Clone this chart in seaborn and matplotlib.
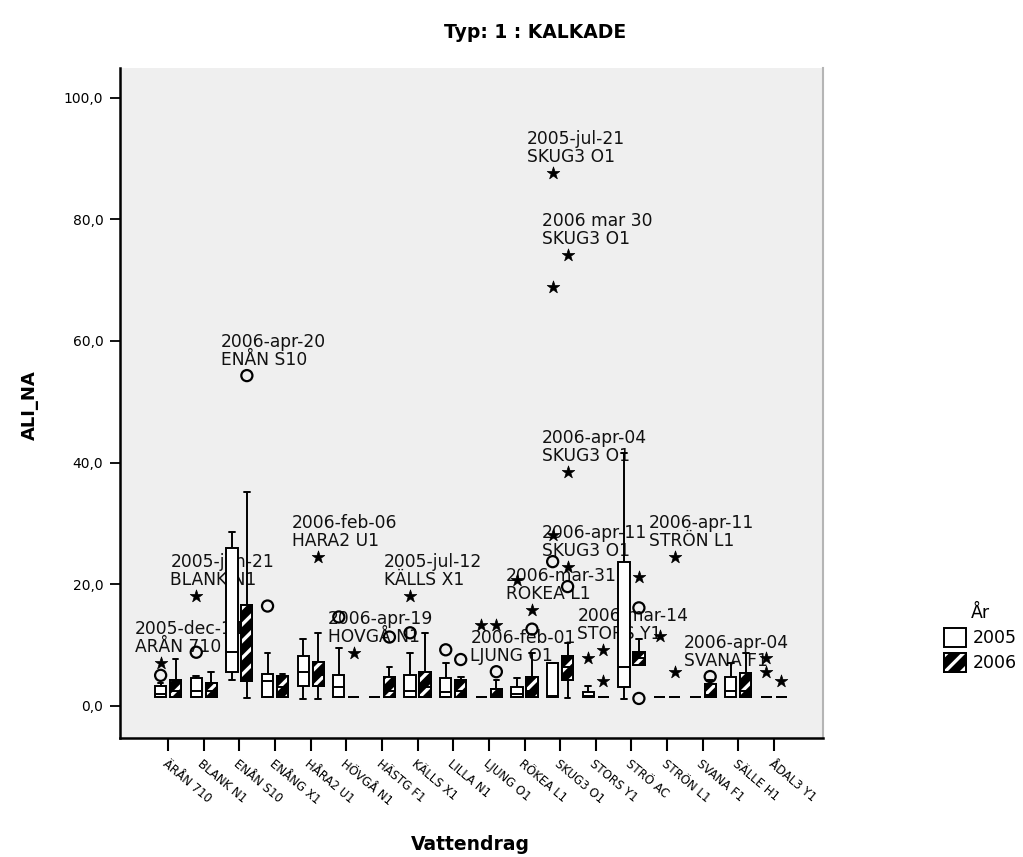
import numpy as np
import pandas as pd
import matplotlib
matplotlib.use("Agg")
import matplotlib.pyplot as plt
import matplotlib.patches as mpatches
from matplotlib.legend_handler import HandlerTuple
import seaborn as sns

stations = ["ÄRÅN 710", "BLANK N1", "ENÅN S10", "ENÅNG X1", "HÅRA2 U1",
            "HÖVGÅ N1", "HÄSTG F1", "KÄLLS X1", "LILLA N1", "LJUNG O1",
            "RÖKEA L1", "SKUG3 O1", "STORS Y1", "STRÖ AC", "STRÖN L1",
            "SVANA F1", "SÄLLE H1", "ÅDAL3 Y1"]
years = ["2005", "2006"]

# Five-number summaries per station: lower whisker, Q1, median, Q3, upper whisker
lo_2005  = [1.4, 1.4, 4.3, 1.4, 1.1, 1.4, 1.4, 1.4, 1.4, 1.4, 1.4, 1.4, 1.4, 1.1, 1.4, 1.4, 1.4, 1.4]
q1_2005  = [1.5, 1.5, 5.6, 1.5, 3.3, 1.5, 1.4, 1.5, 1.5, 1.4, 1.5, 1.5, 1.5, 3.0, 1.4, 1.4, 1.5, 1.4]
med_2005 = [1.9, 2.4, 8.9, 4.0, 5.6, 3.0, 1.4, 2.5, 2.3, 1.4, 2.0, 1.6, 1.6, 6.4, 1.4, 1.4, 2.5, 1.4]
q3_2005  = [3.3, 4.6, 26.0, 5.3, 8.2, 5.1, 1.4, 5.1, 4.6, 1.4, 3.1, 7.1, 2.3, 23.7, 1.4, 1.4, 4.8, 1.4]
hi_2005  = [3.8, 4.9, 28.6, 8.7, 10.9, 9.5, 1.4, 8.7, 7.1, 1.4, 4.6, 7.1, 3.3, 41.6, 1.4, 1.4, 7.1, 1.4]

lo_2006  = [1.4, 1.4, 1.2, 1.4, 1.1, 1.4, 1.4, 1.4, 1.4, 1.4, 1.4, 1.2, 1.4, 6.7, 1.4, 1.4, 1.4, 1.4]
q1_2006  = [1.4, 1.4, 4.0, 1.4, 3.3, 1.4, 1.4, 1.4, 1.4, 1.4, 1.4, 4.3, 1.4, 6.7, 1.4, 1.4, 1.4, 1.4]
med_2006 = [2.5, 2.5, 10.0, 3.0, 5.0, 1.4, 2.5, 3.0, 2.5, 1.6, 2.5, 6.4, 1.4, 7.8, 1.4, 1.8, 2.5, 1.4]
q3_2006  = [4.3, 3.8, 16.6, 4.9, 7.2, 1.4, 4.8, 5.6, 4.3, 2.8, 4.8, 8.1, 1.4, 8.9, 1.4, 3.5, 5.4, 1.4]
hi_2006  = [7.7, 5.6, 35.2, 5.3, 12.0, 1.4, 6.4, 12.0, 4.8, 4.3, 8.7, 10.4, 1.4, 10.9, 1.4, 4.2, 8.7, 1.4]

# Outliers (o) and extremes (*), with case labels where shown
out_station = ["ÄRÅN 710", "ÄRÅN 710", "BLANK N1", "BLANK N1", "ENÅN S10", "ENÅNG X1",
               "HÅRA2 U1", "HÖVGÅ N1", "HÖVGÅ N1", "HÄSTG F1", "KÄLLS X1", "KÄLLS X1",
               "LILLA N1", "LILLA N1", "LJUNG O1", "LJUNG O1", "LJUNG O1",
               "RÖKEA L1", "RÖKEA L1", "RÖKEA L1",
               "SKUG3 O1", "SKUG3 O1", "SKUG3 O1", "SKUG3 O1", "SKUG3 O1",
               "SKUG3 O1", "SKUG3 O1", "SKUG3 O1",
               "STORS Y1", "STORS Y1", "STORS Y1",
               "STRÖ AC", "STRÖ AC", "STRÖ AC",
               "STRÖN L1", "STRÖN L1", "STRÖN L1", "SVANA F1",
               "ÅDAL3 Y1", "ÅDAL3 Y1", "ÅDAL3 Y1"]
out_year = ["2005", "2005", "2005", "2005", "2006", "2005",
            "2006", "2005", "2006", "2006", "2005", "2005",
            "2005", "2006", "2005", "2006", "2006",
            "2005", "2006", "2006",
            "2005", "2005", "2005", "2005", "2006",
            "2006", "2006", "2006",
            "2005", "2006", "2006",
            "2006", "2006", "2006",
            "2005", "2006", "2006", "2006",
            "2005", "2005", "2006"]
out_value = [7.1, 5.0, 18.1, 8.8, 54.3, 16.4,
             24.5, 14.6, 8.7, 11.3, 18.1, 12.0,
             9.2, 7.6, 13.3, 13.3, 5.6,
             20.7, 15.8, 12.6,
             87.7, 68.8, 28.1, 23.7, 74.2,
             38.5, 22.9, 19.6,
             7.9, 9.2, 4.0,
             21.1, 16.1, 1.2,
             11.5, 24.5, 5.6, 4.8,
             7.9, 5.6, 4.1]
out_kind = ["*", "o", "*", "o", "o", "o",
            "*", "o", "*", "o", "*", "o",
            "o", "o", "*", "*", "o",
            "*", "*", "o",
            "*", "*", "*", "o", "*",
            "*", "*", "o",
            "*", "*", "*",
            "*", "o", "o",
            "*", "*", "*", "o",
            "*", "*", "*"]
out_label = ["2005-dec-14\nARÅN 710", "", "2005-jan-21\nBLANK N1", "", "2006-apr-20\nENÅN S10", "",
             "2006-feb-06\nHARA2 U1", "", "2006-apr-19\nHOVGÅ N1", "", "2005-jul-12\nKÄLLS X1", "",
             "", "", "", "", "2006-feb-01\nLJUNG O1",
             "", "2006-mar-31\nROKEA L1", "",
             "2005-jul-21\nSKUG3 O1", "", "", "", "2006 mar 30\nSKUG3 O1",
             "2006-apr-04\nSKUG3 O1", "2006-apr-11\nSKUG3 O1", "",
             "", "2006-mar-14\nSTORS Y1", "",
             "", "", "",
             "", "2006-apr-11\nSTRÖN L1", "", "2006-apr-04\nSVANA F1",
             "", "", ""]

sns.set_theme(style="ticks")
plt.rcParams["font.family"] = ["DejaVu Sans"]
plt.rcParams["text.color"] = "black"
plt.rcParams["hatch.linewidth"] = 2.4

# Long table: the five summary values of each box become its observations
rows = []
summaries = {"2005": (lo_2005, q1_2005, med_2005, q3_2005, hi_2005),
             "2006": (lo_2006, q1_2006, med_2006, q3_2006, hi_2006)}
for year, cols in summaries.items():
    for i, st in enumerate(stations):
        for col in cols:
            rows.append({"Vattendrag": st, "År": year, "ALI_NA": col[i]})
df = pd.DataFrame(rows)

fig = plt.figure(figsize=(10.23, 8.57), dpi=100)
ax = fig.add_axes([0.1173, 0.1389, 0.687, 0.7818])
ax.set_facecolor("#efefef")

sns.boxplot(data=df, x="Vattendrag", y="ALI_NA", hue="År", order=stations,
            hue_order=years, whis=(0, 100), width=0.84, gap=0.25, dodge=True,
            fliersize=0, linecolor="black", linewidth=1.4,
            palette={"2005": "white", "2006": "black"}, saturation=1,
            legend=False, ax=ax)

# White diagonal stripes on the 2006 boxes
for p in list(ax.patches):
    verts = p.get_path().vertices
    xc = verts[:, 0].mean()
    if xc > np.round(xc):
        stripes = mpatches.PathPatch(p.get_path(), transform=p.get_transform(),
                                     facecolor="none", edgecolor="white",
                                     hatch="//", linewidth=0, zorder=2.05)
        ax.add_patch(stripes)
        outline = mpatches.PathPatch(p.get_path(), transform=p.get_transform(),
                                     facecolor="none", edgecolor="black",
                                     linewidth=1.4, zorder=2.1)
        ax.add_patch(outline)

# Outlier and extreme points
offset = {"2005": -0.21, "2006": 0.21}
out = pd.DataFrame({"station": out_station, "year": out_year,
                    "value": out_value, "kind": out_kind, "label": out_label})
out["x"] = [stations.index(s) + offset[y] for s, y in zip(out["station"], out["year"])]

circ = out[out["kind"] == "o"]
star = out[out["kind"] == "*"]
sns.scatterplot(data=circ, x="x", y="value", marker="o", s=64,
                facecolors="none", edgecolor="black", linewidth=1.6,
                zorder=3, ax=ax, legend=False)
sns.scatterplot(data=star, x="x", y="value", marker="*", s=90,
                color="black", edgecolor="black", linewidth=0.5,
                zorder=3, ax=ax, legend=False)

for _, r in out[out["label"] != ""].iterrows():
    ax.annotate(r["label"], xy=(r["x"], r["value"]), xytext=(-26, 7),
                textcoords="offset pixels", ha="left", va="bottom",
                fontsize=12.3, linespacing=1.0, color="#111111", zorder=1.5)

ax.set_xlim(-1.35, 18.37)
ax.set_ylim(-5.3, 104.9)
yt = [0, 20, 40, 60, 80, 100]
ax.set_yticks(yt)
ax.set_yticklabels([f"{v:.1f}".replace(".", ",") for v in yt])
ax.set_xticks(range(len(stations)))
ax.set_xticklabels(stations, rotation=-40, ha="left", rotation_mode="anchor")
ax.tick_params(axis="y", length=7, width=1.3, labelsize=10, pad=5, colors="black")
ax.tick_params(axis="x", length=9, width=1.5, labelsize=8.5, pad=5, colors="black")
ax.set_xlabel("")
ax.set_ylabel("")

for side in ["left", "bottom"]:
    ax.spines[side].set_color("black")
    ax.spines[side].set_linewidth(1.8)
ax.spines["top"].set_visible(False)
ax.spines["right"].set_visible(True)
ax.spines["right"].set_color("#b5b5b5")
ax.spines["right"].set_linewidth(1.5)

fig.text(535 / 1023, 1 - 33 / 857, "Typ: 1 : KALKADE", ha="center", va="center",
         fontsize=13.5, fontweight="bold", color="black")
fig.text(30 / 1023, 1 - 405 / 857, "ALI_NA", ha="center", va="center",
         rotation=90, fontsize=13, fontweight="bold", color="black")
fig.text(470 / 1023, 1 - 845 / 857, "Vattendrag", ha="center", va="center",
         fontsize=13.5, fontweight="bold", color="black")

# Legend
h2005 = mpatches.Patch(facecolor="white", edgecolor="black", linewidth=1.4)
h2006_base = mpatches.Patch(facecolor="black", edgecolor="black", linewidth=1.4)
h2006_hatch = mpatches.Patch(facecolor="none", edgecolor="white", hatch="//", linewidth=0)
h2006_edge = mpatches.Patch(facecolor="none", edgecolor="black", linewidth=1.4)
fig.legend([h2005, (h2006_base, h2006_hatch, h2006_edge)], years, title="År",
           loc="upper left", bbox_to_anchor=(928 / 1023, 1 - 588 / 857),
           frameon=False, fontsize=12.5, title_fontsize=12.5,
           handlelength=1.3, handleheight=1.3, handletextpad=0.4,
           labelspacing=0.35, handler_map={tuple: HandlerTuple(ndivide=1)})

fig.savefig("out.png", dpi=100)
